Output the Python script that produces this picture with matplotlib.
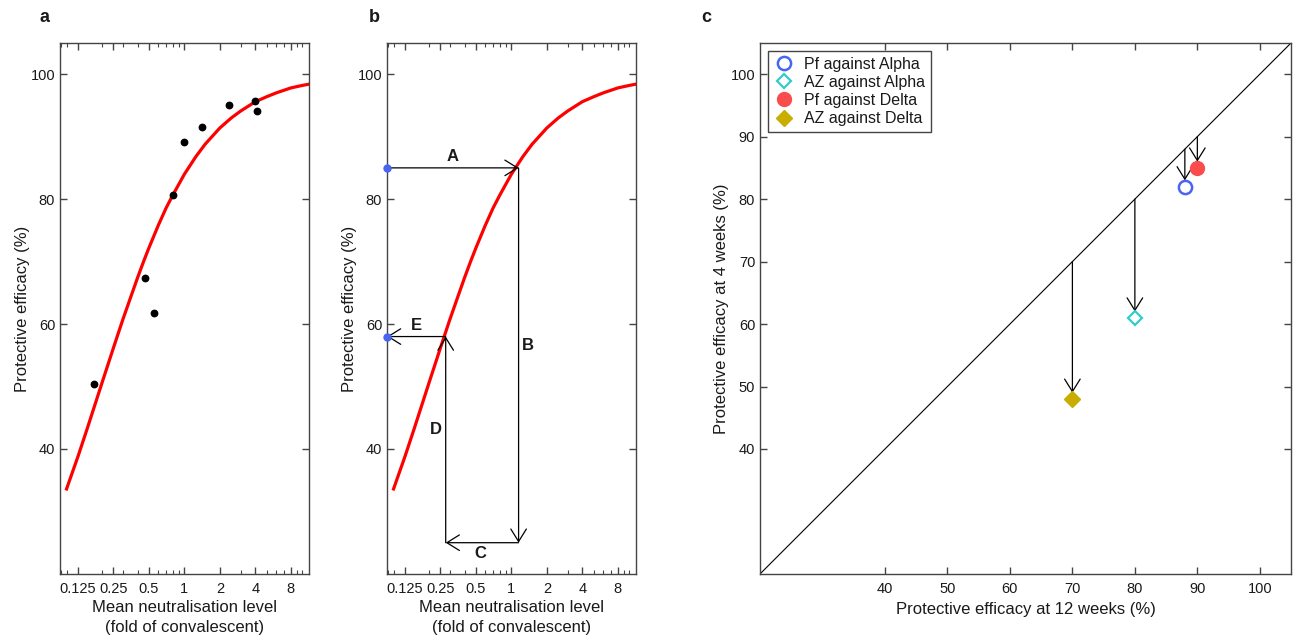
import matplotlib
matplotlib.use("Agg")
import matplotlib.pyplot as plt
from matplotlib.ticker import FixedLocator, LogLocator, NullFormatter

plt.rcParams["font.family"] = ["Liberation Sans", "DejaVu Sans"]

curve_n = [0.1, 0.125, 0.15, 0.2, 0.25, 0.3, 0.35, 0.4, 0.45, 0.5, 0.6, 0.7, 0.8, 1.0,
           1.25, 1.5, 2.0, 2.5, 3.0, 4.0, 5.0, 6.0, 8.0, 10.0, 11.4]
curve_eff = [33.6, 38.8, 43.3, 50.6, 56.2, 60.7, 64.3, 67.4, 70.0, 72.2, 75.8, 78.6, 80.7, 84.0,
             86.8, 88.8, 91.4, 93.0, 94.1, 95.6, 96.4, 97.0, 97.8, 98.2, 98.4]

# observed trial points (panel a)
obs_n = [0.170, 0.465, 0.548, 0.794, 0.99, 1.41, 2.38, 3.96, 4.14]
obs_eff = [50.4, 67.4, 61.8, 80.6, 89.1, 91.5, 95.0, 95.7, 94.1]

# panel b construction
eff_A = 85
eff_E = 58
n_B = 1.15
n_D = 0.277
eff_C = 25
step_labels = ["A", "B", "C", "D", "E"]
step_label_n = [0.317, 1.37, 0.548, 0.228, 0.156]
step_label_eff = [86.8, 56.6, 23.3, 43.1, 59.8]

# panel c
series = ["Pf against Alpha", "AZ against Alpha", "Pf against Delta", "AZ against Delta"]
eff_12w = [88, 80, 90, 70]
eff_4w = [82, 61, 85, 48]

xticks_log = [0.125, 0.25, 0.5, 1, 2, 4, 8]
xtick_labels = ["0.125", "0.25", "0.5", "1", "2", "4", "8"]
XLIM = (0.088, 11.4)
YLIM = (20, 105)

SPINE = "#444444"
TXT = "#1a1a1a"
RED = "#ff0000"
BLUE = "#4a63f2"


def style_axes(ax):
    for s in ax.spines.values():
        s.set_color(SPINE)
        s.set_linewidth(1.0)
    ax.tick_params(which="both", direction="in", top=True, right=True,
                   colors=SPINE, labelcolor=TXT, labelsize=10.5)
    ax.tick_params(which="major", length=5, width=1)
    ax.tick_params(which="minor", length=3, width=0.8)
    ax.tick_params(axis="x", which="both", pad=6)


def neut_axes(ax):
    ax.set_xscale("log")
    ax.set_xlim(*XLIM)
    ax.set_ylim(*YLIM)
    ax.xaxis.set_major_locator(FixedLocator(xticks_log))
    ax.set_xticklabels(xtick_labels)
    ax.xaxis.set_minor_locator(LogLocator(base=10, subs=range(1, 10)))
    ax.xaxis.set_minor_formatter(NullFormatter())
    ax.set_yticks([40, 60, 80, 100])
    ax.set_xlabel("Mean neutralisation level\n(fold of convalescent)", fontsize=12, color=TXT,
                  labelpad=3, linespacing=1.35)
    ax.set_ylabel("Protective efficacy (%)", fontsize=12, color=TXT, labelpad=0.5)
    style_axes(ax)


fig = plt.figure(figsize=(12.93, 6.37), dpi=100)

# panel a
ax_a = fig.add_axes([0.0464, 0.099, 0.1926, 0.8336])
ax_a.plot(curve_n, curve_eff, color=RED, lw=2.3, zorder=2)
ax_a.plot(obs_n, obs_eff, "o", color="black", ms=4.6, zorder=3)
neut_axes(ax_a)

# panel b
ax_b = fig.add_axes([0.2993, 0.099, 0.1926, 0.8336])
ax_b.plot(curve_n, curve_eff, color=RED, lw=2.3, zorder=2)
neut_axes(ax_b)
x0 = XLIM[0]
arrow = dict(arrowstyle="->,head_length=0.45,head_width=0.28", lw=0.9, color="black",
             shrinkA=0, shrinkB=0, mutation_scale=20)
ax_b.annotate("", xy=(n_B, eff_A), xytext=(x0, eff_A), arrowprops=arrow)
ax_b.annotate("", xy=(n_B, eff_C), xytext=(n_B, eff_A), arrowprops=arrow)
ax_b.annotate("", xy=(n_D, eff_C), xytext=(n_B, eff_C), arrowprops=arrow)
ax_b.annotate("", xy=(n_D, eff_E), xytext=(n_D, eff_C), arrowprops=arrow)
ax_b.annotate("", xy=(x0, eff_E), xytext=(n_D, eff_E), arrowprops=arrow)
ax_b.plot([x0, x0], [eff_A, eff_E], "o", color=BLUE, ms=5, clip_on=False, zorder=4)
for letter, n, e in zip(step_labels, step_label_n, step_label_eff):
    ax_b.text(n, e, letter, fontsize=12, fontweight="bold", color=TXT, ha="center", va="center")

# panel c
ax_c = fig.add_axes([0.5878, 0.099, 0.4107, 0.8336])
ax_c.plot([20, 105], [20, 105], color="black", lw=0.8, zorder=1)
for x12, y4 in zip(eff_12w, eff_4w):
    ax_c.annotate("", xy=(x12, y4 + 1), xytext=(x12, x12), arrowprops=arrow)
ax_c.plot(eff_12w[0], eff_4w[0], "o", ls="none", ms=9.5, mfc="white", mec="#4a63f2", mew=1.8,
          label=series[0], zorder=3)
ax_c.plot(eff_12w[1], eff_4w[1], "D", ls="none", ms=7.5, mfc="white", mec="#33cccc", mew=1.6,
          label=series[1], zorder=3)
ax_c.plot(eff_12w[2], eff_4w[2], "o", ls="none", ms=10, color="#f94d4d", label=series[2], zorder=3)
ax_c.plot(eff_12w[3], eff_4w[3], "D", ls="none", ms=8, color="#c9ad00", label=series[3], zorder=3)
ax_c.set_xlim(20, 105)
ax_c.set_ylim(20, 105)
ax_c.set_xticks(range(40, 101, 10))
ax_c.set_yticks(range(40, 101, 10))
ax_c.set_xlabel("Protective efficacy at 12 weeks (%)", fontsize=12, color=TXT, labelpad=4)
ax_c.set_ylabel("Protective efficacy at 4 weeks (%)", fontsize=12, color=TXT, labelpad=1)
style_axes(ax_c)
leg = ax_c.legend(loc="upper left", fontsize=11.5, frameon=True, fancybox=False, framealpha=1,
                  edgecolor=SPINE, borderaxespad=0.5, labelspacing=0.2, handletextpad=0.6,
                  borderpad=0.35, handlelength=1.3)
leg.get_frame().set_linewidth(1.0)
for t in leg.get_texts():
    t.set_color(TXT)

# panel letters
for xpix, letter in [(45, "a"), (374, "b"), (706, "c")]:
    fig.text(xpix / 1293, 1 - 18 / 637, letter, fontsize=13, fontweight="bold",
             ha="center", va="center", color=TXT)

fig.savefig("out.png", dpi=100)
